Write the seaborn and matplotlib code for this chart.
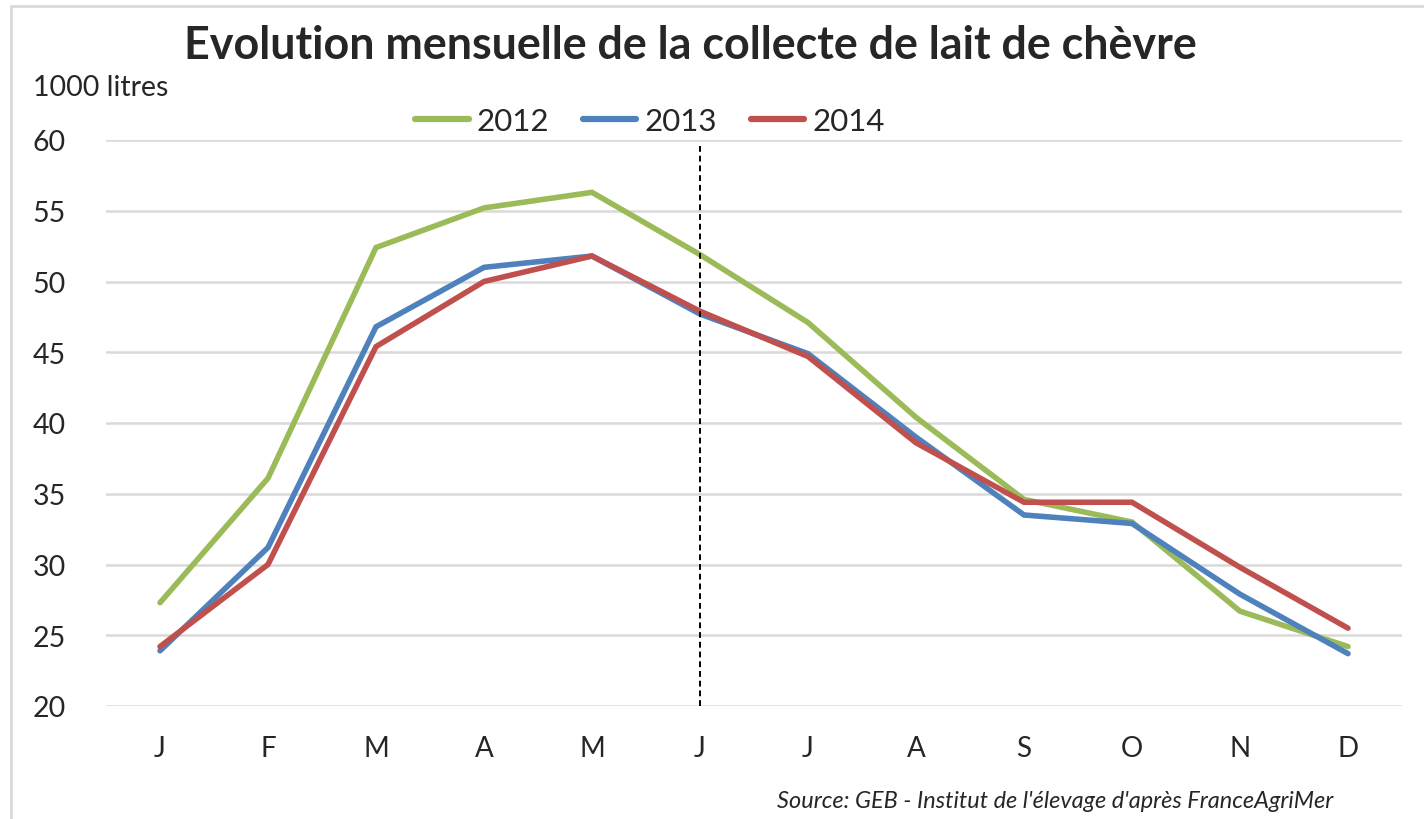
import matplotlib
matplotlib.use("Agg")
import matplotlib.pyplot as plt
import seaborn as sns
import pandas as pd
from matplotlib.patches import Rectangle
from matplotlib.lines import Line2D

months = ["J", "F", "M", "A", "M", "J", "J", "A", "S", "O", "N", "D"]
years = ["2012", "2013", "2014"]
v2012 = [27.3, 36.1, 52.4, 55.2, 56.3, 51.9, 47.1, 40.4, 34.6, 33.0, 26.7, 24.2]
v2013 = [23.9, 31.2, 46.8, 51.0, 51.8, 47.7, 44.9, 39.0, 33.5, 32.9, 27.9, 23.7]
v2014 = [24.2, 30.0, 45.4, 50.0, 51.8, 47.9, 44.7, 38.6, 34.4, 34.4, 29.8, 25.5]
yticks = [20, 25, 30, 35, 40, 45, 50, 55, 60]
colors = {"2012": "#9BBB59", "2013": "#4F81BD", "2014": "#C0504D"}

rows = []
for y, vals in zip(years, [v2012, v2013, v2014]):
    for i, v in enumerate(vals):
        rows.append({"idx": i, "val": v, "year": y})
df = pd.DataFrame(rows)

sns.set_theme(style="white")
FONT = "Lato"
plt.rcParams["font.family"] = [FONT, "DejaVu Sans"]

fig = plt.figure(figsize=(14.24, 8.2), dpi=100)
ax = fig.add_axes([106/1424, 1-707/820, (1402-106)/1424, (707-141)/820])

sns.lineplot(data=df, x="idx", y="val", hue="year", palette=colors,
             linewidth=4.0, ax=ax, legend=False, sort=False)
for l in ax.lines:
    l.set_solid_capstyle("round")
    l.set_solid_joinstyle("miter")

ax.set_xlim(-0.5, 11.5)
ax.set_ylim(20, 60)
ax.set_yticks(yticks)
ax.set_yticklabels([str(t) for t in yticks], fontsize=20.5)
ax.set_xticks(range(12))
ax.set_xticklabels(months, fontsize=20)
ax.tick_params(axis="y", length=0, pad=29)
ax.tick_params(axis="x", length=0, pad=21)
ax.set_xlabel("")
ax.set_ylabel("")
ax.grid(axis="y", color="#D9D9D9", linewidth=1.8)
ax.set_axisbelow(True)
for s in ax.spines.values():
    s.set_visible(False)

ax.axvline(5, ymin=0, ymax=0.993, color="black", linestyle=(0, (3, 2)), linewidth=1.4, zorder=5)

fig.text(690/1424, 1-46/820, "Evolution mensuelle de la collecte de lait de chèvre",
         ha="center", va="center", fontsize=32.3, fontweight="bold")
fig.text(33/1424, 1-88/820, "1000 litres", ha="left", va="center", fontsize=20.5)

handles = [Line2D([0], [0], color=colors[y], linewidth=4.5, solid_capstyle="round") for y in years]
fig.legend(handles, years, loc="center", bbox_to_anchor=(650/1424, 1-122/820), ncol=3,
           frameon=False, fontsize=22.5, handlelength=1.7, handletextpad=0.25, columnspacing=1.1)

fig.text(1333/1424, 1-802/820, "Source: GEB - Institut de l'élevage d'après FranceAgriMer",
         ha="right", va="center", fontsize=16.9, style="italic")

fig.add_artist(Rectangle((11/1424, -0.1), 1.2, 1 - 7/820 + 0.1, transform=fig.transFigure,
                         fill=False, edgecolor="#D9D9D9", linewidth=2))

fig.savefig("out.png", dpi=100)
